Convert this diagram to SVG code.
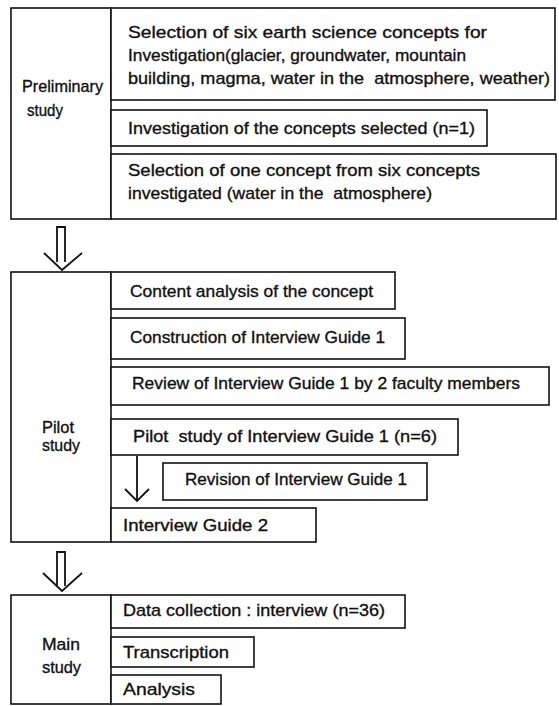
<svg xmlns="http://www.w3.org/2000/svg" width="559" height="706" viewBox="0 0 559 706">
<style>
.b{fill:#fff;stroke:#111;stroke-width:1.6}
.t{font-family:"Liberation Sans",Arial,sans-serif;font-size:17px;fill:#111;stroke:#111;stroke-width:0.35}
.a{fill:none;stroke:#111;stroke-width:1.8;stroke-linejoin:miter}
</style>
<rect width="559" height="706" fill="#fff"/>
<g id="prelim">
<rect class="b" x="11" y="8" width="100" height="211"/>
<text class="t" x="22" y="92" textLength="81" lengthAdjust="spacingAndGlyphs">Preliminary</text>
<text class="t" x="27" y="116" textLength="36" lengthAdjust="spacingAndGlyphs">study</text>
</g>
<g id="p1">
<rect class="b" x="111" y="8" width="444" height="92"/>
<text class="t" x="128" y="38" textLength="359" lengthAdjust="spacingAndGlyphs">Selection of six earth science concepts for</text>
<text class="t" x="128" y="61" textLength="338" lengthAdjust="spacingAndGlyphs">Investigation(glacier, groundwater, mountain</text>
<text class="t" x="128" y="84" textLength="422" lengthAdjust="spacingAndGlyphs" xml:space="preserve">building, magma, water in the  atmosphere, weather)</text>
</g>
<g id="p2">
<rect class="b" x="111" y="110" width="376" height="36"/>
<text class="t" x="128" y="134" textLength="347" lengthAdjust="spacingAndGlyphs">Investigation of the concepts selected (n=1)</text>
</g>
<g id="p3">
<rect class="b" x="111" y="154" width="445" height="65"/>
<text class="t" x="128" y="176" textLength="352" lengthAdjust="spacingAndGlyphs">Selection of one concept from six concepts</text>
<text class="t" x="128" y="199" textLength="304" lengthAdjust="spacingAndGlyphs" xml:space="preserve">investigated (water in the  atmosphere)</text>
</g>
<g id="pilot">
<rect class="b" x="11" y="272" width="100" height="270"/>
<text class="t" x="42" y="433" textLength="32" lengthAdjust="spacingAndGlyphs">Pilot</text>
<text class="t" x="42" y="451" textLength="38" lengthAdjust="spacingAndGlyphs">study</text>
</g>
<g id="s1">
<rect class="b" x="111" y="272" width="284" height="37"/>
<text class="t" x="130" y="297" textLength="243" lengthAdjust="spacingAndGlyphs">Content analysis of the concept</text>
</g>
<g id="s2">
<rect class="b" x="111" y="318" width="294" height="41"/>
<text class="t" x="130" y="343" textLength="255" lengthAdjust="spacingAndGlyphs">Construction of Interview Guide 1</text>
</g>
<g id="s3">
<rect class="b" x="111" y="367" width="438" height="38"/>
<text class="t" x="132" y="389" textLength="388" lengthAdjust="spacingAndGlyphs">Review of Interview Guide 1 by 2 faculty members</text>
</g>
<g id="s4">
<rect class="b" x="111" y="419" width="347" height="36"/>
<text class="t" x="133" y="442" textLength="304" lengthAdjust="spacingAndGlyphs" xml:space="preserve">Pilot  study of Interview Guide 1 (n=6)</text>
</g>
<g id="s5">
<rect class="b" x="163" y="463" width="264" height="37"/>
<text class="t" x="185" y="485" textLength="222" lengthAdjust="spacingAndGlyphs">Revision of Interview Guide 1</text>
</g>
<g id="s6">
<rect class="b" x="111" y="508" width="205" height="34"/>
<text class="t" x="123" y="531" textLength="145" lengthAdjust="spacingAndGlyphs">Interview Guide 2</text>
</g>
<g id="main">
<rect class="b" x="11" y="595" width="100" height="109"/>
<text class="t" x="42" y="650" textLength="38" lengthAdjust="spacingAndGlyphs">Main</text>
<text class="t" x="42" y="673" textLength="39" lengthAdjust="spacingAndGlyphs">study</text>
</g>
<g id="m1">
<rect class="b" x="111" y="595" width="294" height="33"/>
<text class="t" x="123" y="616" textLength="262" lengthAdjust="spacingAndGlyphs">Data collection : interview (n=36)</text>
</g>
<g id="m2">
<rect class="b" x="111" y="637" width="143" height="30"/>
<text class="t" x="123" y="658" textLength="106" lengthAdjust="spacingAndGlyphs">Transcription</text>
</g>
<g id="m3">
<rect class="b" x="111" y="675" width="110" height="29"/>
<text class="t" x="123" y="695" textLength="72" lengthAdjust="spacingAndGlyphs">Analysis</text>
</g>
<g id="connectors">
<path class="a" d="M57,262 V227 H65 V262"/>
<polyline class="a" points="44,253 62,270 82,253"/>
<path class="a" d="M57,586 V552 H65 V586"/>
<polyline class="a" points="43,573 62,591 82,573"/>
<line class="a" x1="137" y1="456" x2="137" y2="501"/>
<polyline class="a" points="125,489 137,501 149,489"/>
</g>
</svg>
